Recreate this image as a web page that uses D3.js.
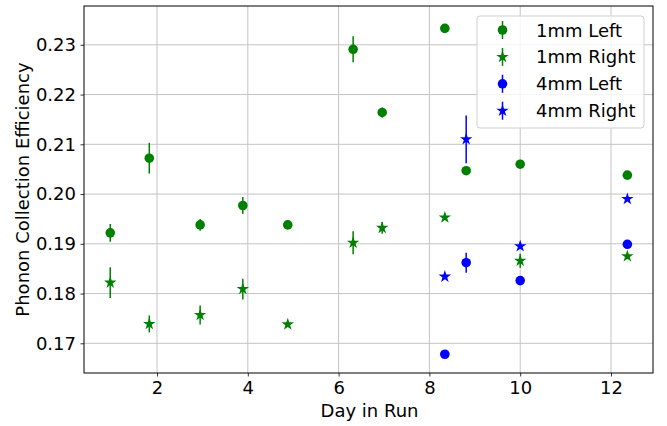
<!DOCTYPE html>
<html>
<head>
<meta charset="utf-8">
<script src="https://cdn.jsdelivr.net/npm/d3@7"></script>
<style>
  body { margin: 0; background: #fff; }
  text { font-family: "DejaVu Sans", sans-serif; fill: #000; }
</style>
</head>
<body>
<svg id="chart" width="667" height="426"></svg>
<script>
// Days of each measurement
const days = [0.97, 1.83, 2.95, 3.89, 4.88, 6.32, 6.96, 8.34, 8.81, 10.0, 12.36];
const days4mm = [8.34, 8.81, 10.0, 12.36];

// 1mm detector, left channel
const left1mm    = [0.1922, 0.2072, 0.1938, 0.1977, 0.1938, 0.2291, 0.2164, 0.2333, 0.2047, 0.2060, 0.2038];
const left1mmErr = [0.0018, 0.0031, 0.0012, 0.0017, 0.0008, 0.0026, 0.0010, 0.0007, 0.0006, 0.0007, 0.0005];
// 1mm detector, right channel
const right1mm    = [0.1822, 0.1739, 0.1757, 0.1809, 0.1738, 0.1902, 0.1932, 0.1953, null, 0.1866, 0.1875];
const right1mmErr = [0.0031, 0.0017, 0.0019, 0.0021, 0.0005, 0.0023, 0.0012, 0.0005, null, 0.0014, 0.0006];
// 4mm detector, left and right channels
const left4mm     = [0.1678, 0.1862, 0.1826, 0.1899];
const left4mmErr  = [0.0004, 0.0020, 0.0007, 0.0005];
const right4mm    = [0.1834, 0.2110, 0.1895, 0.1990];
const right4mmErr = [0.0004, 0.0048, 0.0005, 0.0004];

const xTicks = [2, 4, 6, 8, 10, 12];
const yTicks = [0.17, 0.18, 0.19, 0.20, 0.21, 0.22, 0.23];

const series = [
  { name: "1mm Left",  xs: days,    ys: left1mm,  err: left1mmErr,  color: "#008000", shape: "circle" },
  { name: "1mm Right", xs: days,    ys: right1mm, err: right1mmErr, color: "#008000", shape: "star" },
  { name: "4mm Left",  xs: days4mm, ys: left4mm,  err: left4mmErr,  color: "#0000ff", shape: "circle" },
  { name: "4mm Right", xs: days4mm, ys: right4mm, err: right4mmErr, color: "#0000ff", shape: "star" }
];

const margin = { left: 84, right: 14, top: 6, bottom: 53 };
const W = 667, H = 426;
const FS = 18;
const svg = d3.select("#chart");

const x = d3.scaleLinear().domain([0.392, 12.925]).range([margin.left, W - margin.right]);
const y = d3.scaleLinear().domain([0.16403, 0.2378]).range([H - margin.bottom, margin.top]);

// grid
const grid = svg.append("g");
grid.selectAll(".gx").data(xTicks).join("line")
  .attr("x1", d => x(d)).attr("x2", d => x(d))
  .attr("y1", margin.top).attr("y2", H - margin.bottom)
  .attr("stroke", "#c4c4c4").attr("stroke-width", 1);
grid.selectAll(".gy").data(yTicks).join("line")
  .attr("y1", d => y(d)).attr("y2", d => y(d))
  .attr("x1", margin.left).attr("x2", W - margin.right)
  .attr("stroke", "#c4c4c4").attr("stroke-width", 1);

// axes
const xAxis = svg.append("g")
  .attr("transform", `translate(0,${H - margin.bottom})`)
  .call(d3.axisBottom(x).tickValues(xTicks).tickFormat(d3.format("d")).tickSizeOuter(0).tickSize(3.5).tickPadding(5));
const yAxis = svg.append("g")
  .attr("transform", `translate(${margin.left},0)`)
  .call(d3.axisLeft(y).tickValues(yTicks).tickFormat(d3.format(".2f")).tickSizeOuter(0).tickSize(3.5).tickPadding(4.5));
[xAxis, yAxis].forEach(a => {
  a.select(".domain").remove();
  a.selectAll("text").attr("font-size", FS).attr("font-family", "DejaVu Sans, sans-serif");
  a.selectAll("line").attr("stroke", "#000").attr("stroke-width", 0.8);
});

// frame
svg.append("rect")
  .attr("x", margin.left).attr("y", margin.top)
  .attr("width", W - margin.left - margin.right).attr("height", H - margin.top - margin.bottom)
  .attr("fill", "none").attr("stroke", "#000").attr("stroke-width", 1);

const circleSym = d3.symbol().type(d3.symbolCircle).size(72);
const starSym = d3.symbol().type(d3.symbolStar).size(48);

// points and error bars
series.forEach(s => {
  const pts = s.xs.map((d, i) => ({ x: d, y: s.ys[i], e: s.err[i] })).filter(p => p.y != null);
  const g = svg.append("g");
  g.selectAll("line").data(pts).join("line")
    .attr("x1", p => x(p.x)).attr("x2", p => x(p.x))
    .attr("y1", p => y(p.y - p.e)).attr("y2", p => y(p.y + p.e))
    .attr("stroke", s.color).attr("stroke-width", 1.5);
  g.selectAll("path").data(pts).join("path")
    .attr("transform", p => `translate(${x(p.x)},${y(p.y)})`)
    .attr("d", s.shape === "circle" ? circleSym() : starSym())
    .attr("fill", s.color);
});

// axis titles
svg.append("text")
  .attr("x", (margin.left + W - margin.right) / 2 + 1).attr("y", 417)
  .attr("text-anchor", "middle").attr("font-size", FS)
  .text("Day in Run");
svg.append("text")
  .attr("transform", `translate(29,${(margin.top + H - margin.bottom) / 2}) rotate(-90)`)
  .attr("text-anchor", "middle").attr("font-size", FS)
  .text("Phonon Collection Efficiency");

// legend
const leg = svg.append("g");
leg.append("rect")
  .attr("x", 477).attr("y", 16).attr("width", 167).attr("height", 112)
  .attr("rx", 3).attr("fill", "rgba(255,255,255,0.8)").attr("stroke", "#d0d0d0");
series.forEach((s, i) => {
  const ly = 30 + i * 26.9;
  leg.append("line")
    .attr("x1", 502.5).attr("x2", 502.5).attr("y1", ly - 9).attr("y2", ly + 9)
    .attr("stroke", s.color).attr("stroke-width", 1.5);
  leg.append("path")
    .attr("transform", `translate(502.5,${ly})`)
    .attr("d", s.shape === "circle" ? circleSym() : starSym())
    .attr("fill", s.color);
  leg.append("text")
    .attr("x", 536).attr("y", ly + 6.5).attr("font-size", FS)
    .text(s.name);
});
</script>
</body>
</html>
